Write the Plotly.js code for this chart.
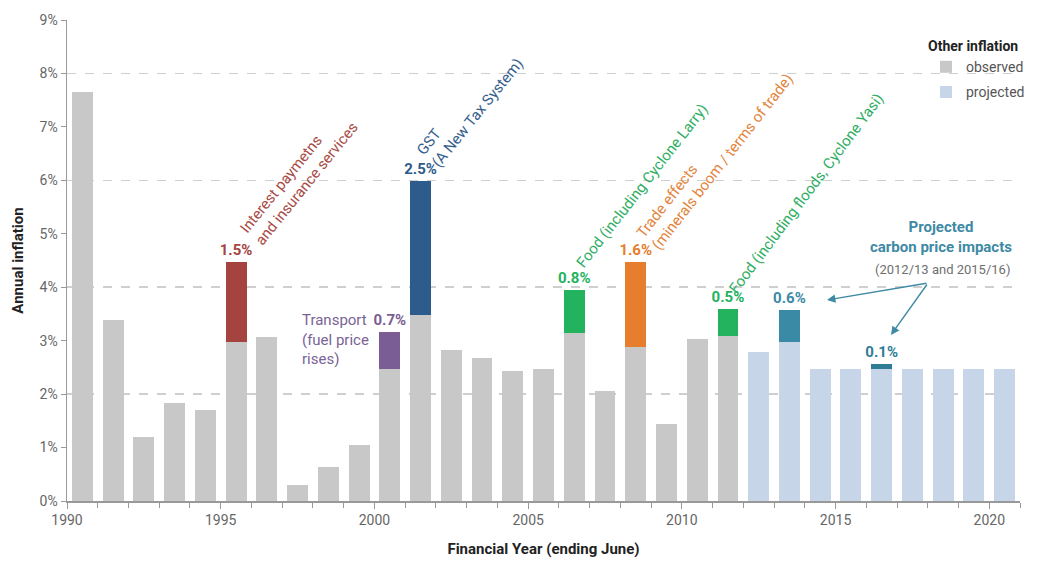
<!DOCTYPE html>
<html>
<head>
<meta charset="utf-8">
<script src="https://cdn.plot.ly/plotly-3.0.1.min.js"></script>
<style>
html,body{margin:0;padding:0;background:#fff;}
#chart{width:1041px;height:565px;}
</style>
</head>
<body>
<div id="chart"></div>
<script>
// Financial year (ending June)
const years = [1990,1991,1992,1993,1994,1995,1996,1997,1998,1999,2000,2001,2002,2003,2004,2005,2006,2007,2008,2009,2010,2011,2012,2013,2014,2015,2016,2017,2018,2019,2020];
// Other inflation, observed (%)
const observed = [7.65,3.39,1.20,1.83,1.70,2.98,3.07,0.30,0.64,1.05,2.47,3.48,2.83,2.68,2.43,2.47,3.14,2.06,2.88,1.44,3.03,3.09,null,null,null,null,null,null,null,null,null];
// Other inflation, projected (%)
const projected = [null,null,null,null,null,null,null,null,null,null,null,null,null,null,null,null,null,null,null,null,null,null,2.79,2.98,2.47,2.47,2.47,2.47,2.47,2.47,2.47];
// Specific drivers on top of other inflation
const driverYears = [1995,2000,2001,2006,2008,2011,2013,2016];
const driverValues = [1.5,0.7,2.5,0.8,1.6,0.5,0.6,0.1];
const driverColors = ['#a5433f','#7a5d94','#2d5b8b','#23b35f','#e67e2e','#23b35f','#3b8aa5','#2f7d95'];
const yTicks = [0,1,2,3,4,5,6,7,8,9];
const gridVals = [2,4,6,8];

const FONT = "Roboto, 'Liberation Sans', sans-serif";
const BW = 0.68, OFF = 0.16;

const traces = [
  {type:'bar', name:'observed', legendgroup:'a', x:years, y:observed, width:BW, offset:OFF,
   marker:{color:'#c8c8c8'}, hoverinfo:'x+y'},
  {type:'bar', name:'projected', legendgroup:'b', x:years, y:projected, width:BW, offset:OFF,
   marker:{color:'#c6d6e8'}, hoverinfo:'x+y'},
  {type:'bar', name:'drivers', x:driverYears, y:driverValues, width:BW, offset:OFF,
   marker:{color:driverColors}, showlegend:false,
   texttemplate:'<b>%{y:.1f}%</b>', textposition:'outside', cliponaxis:false,
   textfont:{family:FONT, size:15, color:driverColors}, constraintext:'none'},
  {type:'scatter', x:[1990], y:[0], yaxis:'y2', mode:'markers', marker:{opacity:0}, showlegend:false, hoverinfo:'skip'}
];

function X(px){ return 1990 + (px-67)/30.742; }
function Y(py){ return (501-py)/53.44; }

const annotations = [
  {x:X(299), y:Y(178), text:'Interest paymetns<br>and insurance services', textangle:-51, align:'left',
   font:{family:FONT,size:15,color:'#a94b47'}, showarrow:false, xanchor:'center', yanchor:'middle'},
  {x:X(470), y:Y(107), text:'GST<br>(A New Tax System)', textangle:-51, align:'left',
   font:{family:FONT,size:15,color:'#35608d'}, showarrow:false, xanchor:'center', yanchor:'middle'},
  {x:X(642), y:Y(186), text:'Food (including Cyclone Larry)', textangle:-52, align:'left',
   font:{family:FONT,size:15,color:'#2fae63'}, showarrow:false, xanchor:'center', yanchor:'middle'},
  {x:X(715), y:Y(156), text:'Trade effects<br>(minerals boom / terms of trade)', textangle:-52, align:'left',
   font:{family:FONT,size:15,color:'#e3843c'}, showarrow:false, xanchor:'center', yanchor:'middle'},
  {x:X(806), y:Y(194), text:'Food (including floods, Cyclone Yasi)', textangle:-53, align:'left',
   font:{family:FONT,size:15,color:'#2fae63'}, showarrow:false, xanchor:'center', yanchor:'middle'},
  {x:X(300), y:Y(340), text:'Transport<br>(fuel price<br>rises)', align:'left',
   font:{family:FONT,size:15,color:'#7a6396'}, showarrow:false, xanchor:'left', yanchor:'middle'},
  {x:X(941), y:Y(237), text:'<b>Projected<br>carbon price impacts</b>', align:'center',
   font:{family:FONT,size:15,color:'#3e8aa4'}, showarrow:false, xanchor:'center', yanchor:'middle'},
  {x:X(942), y:Y(270), text:'(2012/13 and 2015/16)', align:'center',
   font:{family:FONT,size:13,color:'#6f6f6f'}, showarrow:false, xanchor:'center', yanchor:'middle'},
  {x:X(827), y:Y(300), text:'', showarrow:true, arrowhead:2, arrowsize:1.2, arrowwidth:1.4, arrowcolor:'#3e8aa4',
   ax:101, ay:-17, axref:'pixel', ayref:'pixel'},
  {x:X(891), y:Y(335), text:'', showarrow:true, arrowhead:2, arrowsize:1.2, arrowwidth:1.4, arrowcolor:'#3e8aa4',
   ax:37, ay:-52, axref:'pixel', ayref:'pixel'}
];

const layout = {
  width:1041, height:565,
  margin:{l:67, r:21, t:20, b:64, autoexpand:false},
  paper_bgcolor:'#fff', plot_bgcolor:'rgba(0,0,0,0)',
  barmode:'stack',
  font:{family:FONT, size:14, color:'#666'},
  showlegend:true,
  legend:{x:(926-67)/953, y:(501-33)/481, xanchor:'left', yanchor:'top', bgcolor:'rgba(0,0,0,0)',
    title:{text:'<b>Other inflation</b>', font:{family:FONT, size:14, color:'#222'}},
    font:{family:FONT, size:14, color:'#555'}, itemwidth:30, tracegroupgap:4, traceorder:'grouped'},
  xaxis:{range:[1990,2021], tickmode:'linear', tick0:1990, dtick:5, ticks:'outside', ticklen:6,
    tickcolor:'#999', showline:true, linecolor:'#999', linewidth:1.5, showgrid:false, zeroline:false,
    tickfont:{family:FONT, size:14, color:'#666'},
    minor:{dtick:1, tick0:1990, ticks:'outside', ticklen:5, tickcolor:'#999', showgrid:false},
    title:{text:'<b>Financial Year (ending June)</b>', font:{family:FONT, size:15, color:'#222'}, standoff:16}},
  yaxis:{range:[0,9], tickvals:yTicks, ticktext:yTicks.map(v=>v+'%'), ticks:'outside', ticklen:5,
    tickcolor:'#999', showline:true, linecolor:'#999', linewidth:1.5, showgrid:false, zeroline:false,
    tickfont:{family:FONT, size:14, color:'#666'},
    title:{text:'<b>Annual inflation</b>', font:{family:FONT, size:15, color:'#222'}, standoff:12}},
  yaxis2:{overlaying:'y', range:[0,9], tickvals:gridVals, showticklabels:false, ticks:'',
    showgrid:true, gridcolor:'#cfcfcf', gridwidth:1.5, griddash:'dash', showline:false, zeroline:false},
  annotations:annotations
};

Plotly.newPlot('chart', traces, layout, {displayModeBar:false, staticPlot:true});
</script>
</body>
</html>
